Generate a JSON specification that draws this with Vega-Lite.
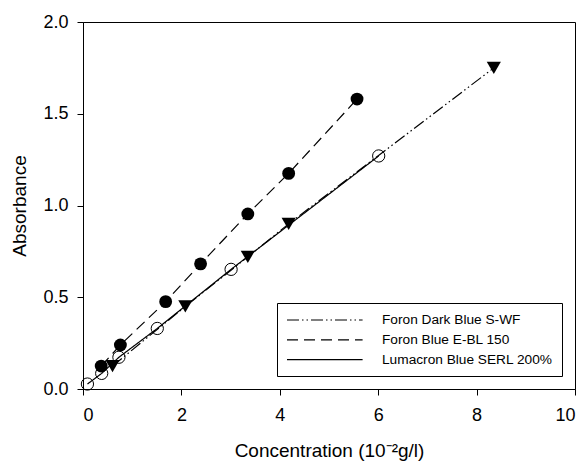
{
  "$schema": "https://vega.github.io/schema/vega-lite/v6.json",
  "width": 492,
  "height": 367,
  "autosize": "none",
  "padding": {"left": 83, "top": 22, "right": 13, "bottom": 73},
  "background": "white",
  "config": {
    "view": {"stroke": "black", "strokeWidth": 1},
    "font": "Liberation Sans",
    "axis": {
      "grid": false,
      "domainColor": "black",
      "tickColor": "black",
      "tickSize": 6,
      "labelColor": "black",
      "titleColor": "black",
      "labelFontSize": 18,
      "titleFontSize": 19,
      "labelFont": "Liberation Sans",
      "titleFont": "Liberation Sans",
      "titleFontWeight": "normal"
    }
  },
  "data": {
    "values": [
      {"c": 0.6, "a": 0.125, "s": "Foron Dark Blue S-WF"},
      {"c": 2.08, "a": 0.45, "s": "Foron Dark Blue S-WF"},
      {"c": 3.35, "a": 0.72, "s": "Foron Dark Blue S-WF"},
      {"c": 4.18, "a": 0.9, "s": "Foron Dark Blue S-WF"},
      {"c": 8.35, "a": 1.75, "s": "Foron Dark Blue S-WF"},
      {"c": 0.37, "a": 0.125, "s": "Foron Blue E-BL 150"},
      {"c": 0.76, "a": 0.24, "s": "Foron Blue E-BL 150"},
      {"c": 1.68, "a": 0.476, "s": "Foron Blue E-BL 150"},
      {"c": 2.39, "a": 0.682, "s": "Foron Blue E-BL 150"},
      {"c": 3.35, "a": 0.954, "s": "Foron Blue E-BL 150"},
      {"c": 4.18, "a": 1.175, "s": "Foron Blue E-BL 150"},
      {"c": 5.57, "a": 1.58, "s": "Foron Blue E-BL 150"},
      {"c": 0.09, "a": 0.027, "s": "Lumacron Blue SERL 200%"},
      {"c": 0.38, "a": 0.085, "s": "Lumacron Blue SERL 200%"},
      {"c": 0.73, "a": 0.173, "s": "Lumacron Blue SERL 200%"},
      {"c": 1.51, "a": 0.33, "s": "Lumacron Blue SERL 200%"},
      {"c": 3.01, "a": 0.652, "s": "Lumacron Blue SERL 200%"},
      {"c": 6.01, "a": 1.27, "s": "Lumacron Blue SERL 200%"}
    ]
  },
  "layer": [
    {
      "mark": {"type": "line", "color": "black", "strokeWidth": 1.2},
      "encoding": {
        "x": {"field": "c", "type": "quantitative", "scale": {"domain": [0, 10], "nice": false},
              "axis": {"values": [0, 2, 4, 6, 8, 10], "title": "Concentration (10⁻²g/l)", "labelPadding": 11, "titlePadding": 17}},
        "y": {"field": "a", "type": "quantitative", "scale": {"domain": [0, 2], "nice": false},
              "axis": {"values": [0, 0.5, 1, 1.5, 2], "format": ".1f", "title": "Absorbance", "labelPadding": 9, "titlePadding": 13}},
        "detail": {"field": "s"},
        "order": {"field": "c"},
        "strokeDash": {
          "field": "s", "type": "nominal",
          "scale": {
            "domain": ["Foron Dark Blue S-WF", "Foron Blue E-BL 150", "Lumacron Blue SERL 200%"],
            "range": [[12, 3, 1.5, 3, 1.5, 3], [11, 6], [1, 0]]
          },
          "legend": {
            "title": null,
            "orient": "none",
            "legendX": 194,
            "legendY": 281,
            "strokeColor": "black",
            "fillColor": "white",
            "padding": 9,
            "symbolType": "M-1,0H9.8",
            "symbolSize": 196,
            "symbolStrokeWidth": 1.2,
            "symbolStrokeColor": "black",
            "labelFont": "Liberation Sans",
            "labelFontSize": 13.7,
            "labelColor": "black",
            "labelLimit": 0,
            "labelOffset": 80,
            "rowPadding": 4.8,
            "cornerRadius": 0
          }
        }
      }
    },
    {
      "transform": [{"filter": {"field": "s", "equal": "Foron Dark Blue S-WF"}}],
      "mark": {"type": "point", "shape": "triangle-down", "filled": true, "color": "black", "opacity": 1, "size": 200},
      "encoding": {
        "x": {"field": "c", "type": "quantitative"},
        "y": {"field": "a", "type": "quantitative"}
      }
    },
    {
      "transform": [{"filter": {"field": "s", "equal": "Foron Blue E-BL 150"}}],
      "mark": {"type": "point", "shape": "circle", "filled": true, "color": "black", "opacity": 1, "size": 165},
      "encoding": {
        "x": {"field": "c", "type": "quantitative"},
        "y": {"field": "a", "type": "quantitative"}
      }
    },
    {
      "transform": [{"filter": {"field": "s", "equal": "Lumacron Blue SERL 200%"}}],
      "mark": {"type": "point", "shape": "circle", "filled": false, "stroke": "black", "strokeWidth": 1, "opacity": 1, "size": 150},
      "encoding": {
        "x": {"field": "c", "type": "quantitative"},
        "y": {"field": "a", "type": "quantitative"}
      }
    }
  ]
}
